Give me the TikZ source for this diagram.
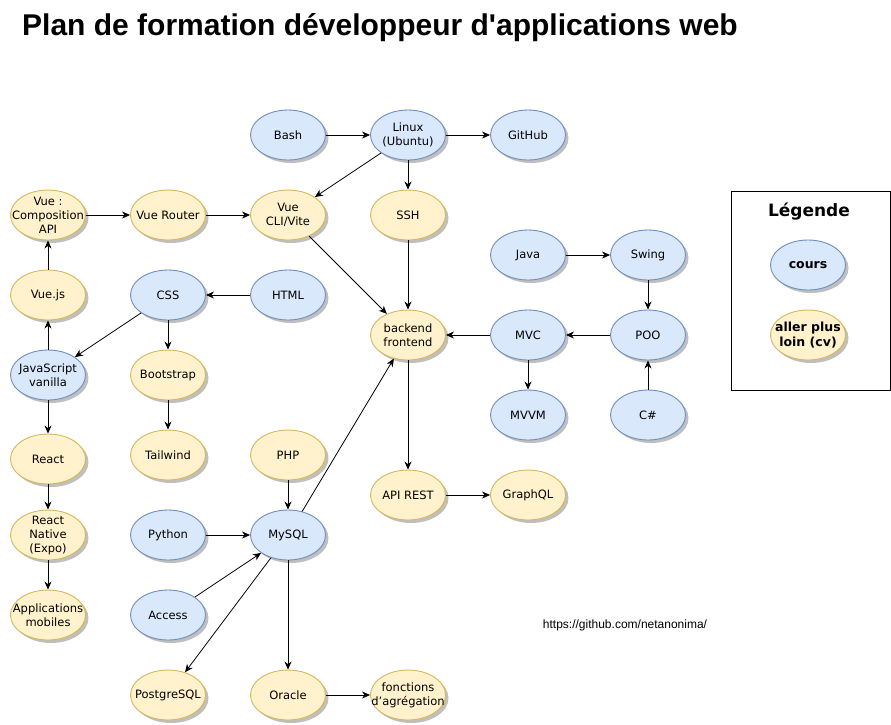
\documentclass[tikz,border=0pt]{standalone}
\usepackage{fontspec}
\setmainfont{DejaVu Sans}[Ligatures=ResetAll]
\newfontfamily\arialfont{Liberation Sans}[Ligatures=ResetAll]
\usetikzlibrary{shapes.geometric,shadows,arrows.meta}
\definecolor{bluefill}{HTML}{DAE8FC}
\definecolor{bluedraw}{HTML}{6C8EBF}
\definecolor{yelfill}{HTML}{FFF2CC}
\definecolor{yeldraw}{HTML}{D6B656}
\begin{document}
\begin{tikzpicture}[x=1pt,y=-1pt,
  basenode/.style={ellipse, minimum width=75pt, minimum height=50pt, inner xsep=-25pt, inner ysep=-10pt,
    line width=0.9pt, align=center, font=\fontsize{11.5}{14}\selectfont,
    drop shadow={shadow xshift=3pt, shadow yshift=-3pt, opacity=0.25, fill=black}},
  bluenode/.style={basenode, fill=bluefill, draw=bluedraw},
  yelnode/.style={basenode, fill=yelfill, draw=yeldraw},
  arr/.style={-{Stealth[length=8pt,width=7pt,inset=2.5pt]}, line width=0.8pt, black},
]
\useasboundingbox (0,0) rectangle (891,724);

\node[anchor=base west, inner sep=0pt, font=\arialfont\bfseries\fontsize{30}{36}\selectfont] (title) at (22,35) {Plan de formation développeur d'applications web};

% row 1
\node[bluenode] (bash) at (288,135) {Bash};
\node[bluenode] (linux) at (408,135) {Linux\\(Ubuntu)};
\node[bluenode] (github) at (528,135) {GitHub};
% row 2
\node[yelnode] (comp) at (48,215) {Vue :\\Composition\\API};
\node[yelnode] (router) at (168,215) {Vue Router};
\node[yelnode] (vuecli) at (288,215) {Vue\\CLI/Vite};
\node[yelnode] (ssh) at (408,215) {SSH};
\node[bluenode] (java) at (528,255) {Java};
\node[bluenode] (swing) at (648,255) {Swing};
% row 3
\node[yelnode] (vuejs) at (48,295) {Vue.js};
\node[bluenode] (css) at (168,295) {CSS};
\node[bluenode] (html) at (288,295) {HTML};
\node[yelnode] (back) at (408,335) {backend\\frontend};
\node[bluenode] (mvc) at (528,335) {MVC};
\node[bluenode] (poo) at (648,335) {POO};
% row 4
\node[bluenode] (js) at (48,375) {JavaScript\\vanilla};
\node[yelnode] (bootstrap) at (168,375) {Bootstrap};
\node[bluenode] (mvvm) at (528,415) {MVVM};
\node[bluenode] (csharp) at (648,415) {C\#};
% row 5
\node[yelnode] (react) at (48,459) {React};
\node[yelnode] (tailwind) at (168,455) {Tailwind};
\node[yelnode] (php) at (288,455) {PHP};
\node[yelnode] (api) at (408,495) {API REST};
\node[yelnode] (graphql) at (528,495) {GraphQL};
% row 6
\node[yelnode] (native) at (48,535) {React\\Native\\(Expo)};
\node[bluenode] (python) at (168,535) {Python};
\node[bluenode] (mysql) at (288,535) {MySQL};
% row 7
\node[yelnode] (mobile) at (48,615) {Applications\\mobiles};
\node[bluenode] (access) at (168,615) {Access};
% row 8
\node[yelnode] (postgres) at (168,695) {PostgreSQL};
\node[yelnode] (oracle) at (288,695) {Oracle};
\node[yelnode] (agreg) at (408,695) {fonctions\\d'agrégation};

% url
\node[font=\arialfont\fontsize{12}{14}\selectfont, inner sep=0pt] (url) at (625,625) {https://github.com/netanonima/};

% legend
\node[draw=black, line width=0.9pt, fill=white, minimum width=159pt, minimum height=199pt, inner sep=0pt] (legend) at (810.5,290.5) {};
\node[font=\bfseries\fontsize{17}{20}\selectfont, inner sep=0pt] (legtitle) at (809,212) {Légende};
\node[bluenode, font=\bfseries\fontsize{12.5}{15}\selectfont] (legcours) at (808,265) {cours};
\node[yelnode, font=\bfseries\fontsize{12.5}{14.5}\selectfont] (legplus) at (808,335) {aller plus\\loin (cv)};

% edges
\draw[arr] (bash) -- (linux);
\draw[arr] (linux) -- (github);
\draw[arr] (linux) -- (vuecli);
\draw[arr] (linux) -- (ssh);
\draw[arr] (comp) -- (router);
\draw[arr] (router) -- (vuecli);
\draw[arr] (vuecli) -- (back);
\draw[arr] (ssh) -- (back);
\draw[arr] (html) -- (css);
\draw[arr] (css) -- (js);
\draw[arr] (css) -- (bootstrap);
\draw[arr] (bootstrap) -- (tailwind);
\draw[arr] (js) -- (vuejs);
\draw[arr] (vuejs) -- (comp);
\draw[arr] (js) -- (react);
\draw[arr] (react) -- (native);
\draw[arr] (native) -- (mobile);
\draw[arr] (php) -- (mysql);
\draw[arr] (python) -- (mysql);
\draw[arr] (access) -- (mysql);
\draw[arr] (mysql) -- (postgres);
\draw[arr] (mysql) -- (oracle);
\draw[arr] (oracle) -- (agreg);
\draw[arr] (mysql) -- (back);
\draw[arr] (back) -- (api);
\draw[arr] (api) -- (graphql);
\draw[arr] (java) -- (swing);
\draw[arr] (swing) -- (poo);
\draw[arr] (poo) -- (mvc);
\draw[arr] (mvc) -- (back);
\draw[arr] (mvc) -- (mvvm);
\draw[arr] (csharp) -- (poo);
\end{tikzpicture}
\end{document}
